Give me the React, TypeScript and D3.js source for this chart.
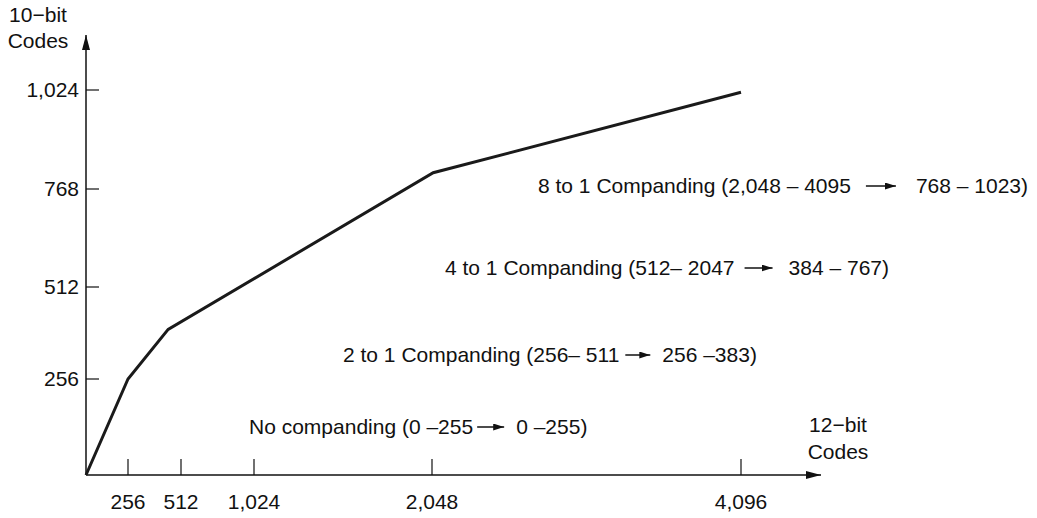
import React, {useEffect, useRef} from 'react';
import * as d3 from 'd3';

// values (12-bit input codes -> 10-bit output codes)
const inputCodes = [0, 256, 450, 2056, 4096];
const outputCodes = [0, 256, 394, 810, 1018];

const xTickValues = [256, 512, 1024, 2048, 4096];
const xTickLabels = ['256', '512', '1,024', '2,048', '4,096'];
const yTickValues = [256, 512, 768, 1024];
const yTickLabels = ['256', '512', '768', '1,024'];

const rangeLabels = [
    'No companding (0 \u2013255',
    '2 to 1 Companding (256\u2013 511',
    '4 to 1 Companding (512\u2013 2047',
    '8 to 1 Companding (2,048 \u2013 4095',
];
const mappedLabels = ['0 \u2013255)', '256 \u2013383)', '384 \u2013 767)', '768 \u2013 1023)'];

const WIDTH = 1037;
const HEIGHT = 518;
const FONT = '"Liberation Sans", Arial, Helvetica, sans-serif';
const FONT_SIZE = 21;

// annotation layout: [left x, baseline y, gap before arrow, arrow length, gap after arrow]
const annotationLayout = [
    [249, 434, 4, 27, 12],
    [343, 362, 6, 25, 12],
    [445, 275, 10, 28, 16],
    [538, 193, 15, 30, 20],
];

const App: React.FC = () => {
    const svgRef = useRef<SVGSVGElement | null>(null);

    useEffect(() => {
        if (svgRef.current) {
            drawChart();
        }
    }, []);

    const drawChart = () => {
        const svg = d3.select(svgRef.current);
        svg.selectAll('*').remove();

        // the figure's axes are not quite linear, so the scales are piecewise
        const x = d3.scaleLinear()
            .domain([0, 256, 512, 1024, 2048, 4096])
            .range([86, 128, 181, 254, 432, 741]);
        const y = d3.scaleLinear()
            .domain([0, 256, 512, 768, 1024])
            .range([475, 379, 287, 189, 90]);

        const x0 = x(0);
        const y0 = y(0);
        const xAxisEnd = 821;
        const yAxisEnd = 35;

        const defs = svg.append('defs');
        defs.append('marker')
            .attr('id', 'axisHead')
            .attr('viewBox', '0 0 15 8')
            .attr('refX', 15)
            .attr('refY', 4)
            .attr('markerWidth', 15)
            .attr('markerHeight', 8)
            .attr('markerUnits', 'userSpaceOnUse')
            .attr('orient', 'auto')
            .append('path')
            .attr('d', 'M0,0 L15,4 L0,8 Z')
            .attr('fill', '#111');
        defs.append('marker')
            .attr('id', 'textHead')
            .attr('viewBox', '0 0 11 7')
            .attr('refX', 11)
            .attr('refY', 3.5)
            .attr('markerWidth', 11)
            .attr('markerHeight', 7)
            .attr('markerUnits', 'userSpaceOnUse')
            .attr('orient', 'auto')
            .append('path')
            .attr('d', 'M0,0 L11,3.5 L0,7 Z')
            .attr('fill', '#111');

        // axes
        svg.append('line')
            .attr('x1', x0).attr('y1', y0)
            .attr('x2', xAxisEnd).attr('y2', y0)
            .attr('stroke', '#111').attr('stroke-width', 1.5)
            .attr('marker-end', 'url(#axisHead)');
        svg.append('line')
            .attr('x1', x0).attr('y1', y0)
            .attr('x2', x0).attr('y2', yAxisEnd)
            .attr('stroke', '#111').attr('stroke-width', 1.5)
            .attr('marker-end', 'url(#axisHead)');

        // x ticks point up into the plot
        svg.selectAll('.xtick')
            .data(xTickValues)
            .enter()
            .append('line')
            .attr('x1', (d) => x(d)).attr('x2', (d) => x(d))
            .attr('y1', y0).attr('y2', y0 - 16)
            .attr('stroke', '#111').attr('stroke-width', 1.2);
        svg.selectAll('.xlabel')
            .data(xTickValues)
            .enter()
            .append('text')
            .attr('x', (d) => x(d))
            .attr('y', 509)
            .attr('text-anchor', 'middle')
            .style('font-family', FONT)
            .style('font-size', FONT_SIZE + 'px')
            .style('fill', '#111')
            .text((d, i) => xTickLabels[i]);

        // y ticks point right
        svg.selectAll('.ytick')
            .data(yTickValues)
            .enter()
            .append('line')
            .attr('x1', x0).attr('x2', x0 + 13)
            .attr('y1', (d) => y(d)).attr('y2', (d) => y(d))
            .attr('stroke', '#111').attr('stroke-width', 1.2);
        svg.selectAll('.ylabel')
            .data(yTickValues)
            .enter()
            .append('text')
            .attr('x', 79)
            .attr('y', (d) => y(d) + 7)
            .attr('text-anchor', 'end')
            .style('font-family', FONT)
            .style('font-size', FONT_SIZE + 'px')
            .style('fill', '#111')
            .text((d, i) => yTickLabels[i]);

        // axis titles
        const titles = [
            {x: 38, y: 22, t: '10\u2212bit'},
            {x: 38, y: 48, t: 'Codes'},
            {x: 838, y: 432, t: '12\u2212bit'},
            {x: 838, y: 459, t: 'Codes'},
        ];
        svg.selectAll('.title')
            .data(titles)
            .enter()
            .append('text')
            .attr('x', (d) => d.x)
            .attr('y', (d) => d.y)
            .attr('text-anchor', 'middle')
            .style('font-family', FONT)
            .style('font-size', FONT_SIZE + 'px')
            .style('fill', '#111')
            .text((d) => d.t);

        // transfer curve
        const line = d3.line<number>()
            .x((d) => x(d))
            .y((d, i) => y(outputCodes[i]));
        svg.append('path')
            .attr('d', line(inputCodes) as string)
            .attr('fill', 'none')
            .attr('stroke', '#1a1a1a')
            .attr('stroke-width', 3)
            .attr('stroke-linejoin', 'miter');

        // companding annotations: "range  ->  mapped range"
        rangeLabels.forEach((label, i) => {
            const [left, base, gapA, arrowLen, gapB] = annotationLayout[i];
            const first = svg.append('text')
                .attr('x', left)
                .attr('y', base)
                .style('font-family', FONT)
                .style('font-size', FONT_SIZE + 'px')
                .style('fill', '#111')
                .text(label);
            const w = (first.node() as SVGTextElement).getComputedTextLength();
            const ax = left + w + gapA;
            const ay = base - 7;
            svg.append('line')
                .attr('x1', ax).attr('y1', ay)
                .attr('x2', ax + arrowLen).attr('y2', ay)
                .attr('stroke', '#111').attr('stroke-width', 1.5)
                .attr('marker-end', 'url(#textHead)');
            svg.append('text')
                .attr('x', ax + arrowLen + gapB)
                .attr('y', base)
                .style('font-family', FONT)
                .style('font-size', FONT_SIZE + 'px')
                .style('fill', '#111')
                .text(mappedLabels[i]);
        });
    };

    return (
        <svg
            ref={svgRef}
            width={WIDTH}
            height={HEIGHT}
            style={{position: 'absolute', left: 0, top: 0, background: '#fff'}}
        ></svg>
    );
};

export default App;
